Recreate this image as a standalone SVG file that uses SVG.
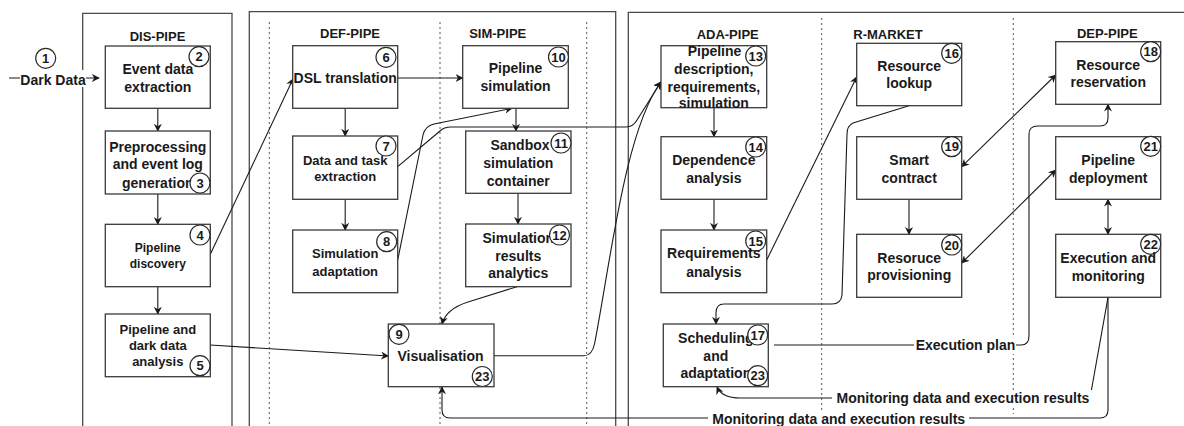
<svg xmlns="http://www.w3.org/2000/svg" width="1184" height="426" viewBox="0 0 1184 426">
  <style>
    text { font-family: "Liberation Sans", Arial, sans-serif; font-weight: bold; fill: #1a1a1a; }
    .t14 { font-size: 14px; text-anchor: middle; }
    .t13 { font-size: 13px; text-anchor: middle; }
    .t12 { font-size: 12px; text-anchor: middle; }
    .title { font-size: 13px; text-anchor: middle; }
    .num { font-size: 13px; text-anchor: middle; }
    .box { fill: #ffffff; stroke: #3a3a3a; stroke-width: 1.3; }
    .badge { fill: #ffffff; stroke: #2a2a2a; stroke-width: 1.2; }
    .frame { fill: none; stroke: #4a4a4a; stroke-width: 1.3; }
    .lane { fill: none; stroke: #555555; stroke-width: 1; stroke-dasharray: 2 3; }
    .edge { fill: none; stroke: #1a1a1a; stroke-width: 1.1; }
    .lbl { fill: #ffffff; stroke: none; }
  </style>
  <defs>
    <marker id="arrow" viewBox="0 0 10 10" refX="9" refY="5" markerWidth="8" markerHeight="8" markerUnits="userSpaceOnUse" orient="auto-start-reverse">
      <path d="M0,0 L10,5 L0,10 L3,5 z" fill="#1a1a1a"/>
    </marker>
  </defs>

  <rect width="1184" height="426" fill="#ffffff"/>

  <!-- pipeline frames and swimlane separators -->
  <g id="frames">
    <path class="frame" d="M82.7,430 V13.3 H232 V430"/>
    <path class="frame" d="M249.3,430 V11.7 H615.7 V430"/>
    <path class="frame" d="M628.3,430 V12.3 H1190"/>
    <line class="lane" x1="269.3" y1="22" x2="269.3" y2="426"/>
    <line class="lane" x1="440" y1="22" x2="440" y2="426"/>
    <line class="lane" x1="586.7" y1="22" x2="586.7" y2="426"/>
    <line class="lane" x1="821.7" y1="18" x2="821.7" y2="412"/>
    <line class="lane" x1="1013.3" y1="18" x2="1013.3" y2="414"/>
    <text class="title" x="157.5" y="41">DIS-PIPE</text>
    <text class="title" x="350" y="38">DEF-PIPE</text>
    <text class="title" x="497.7" y="38">SIM-PIPE</text>
    <text class="title" x="727.7" y="39">ADA-PIPE</text>
    <text class="title" x="888" y="39">R-MARKET</text>
    <text class="title" x="1107.3" y="38">DEP-PIPE</text>
  </g>

  <!-- connectors -->
  <g id="connectors" marker-end="url(#arrow)">
    <path class="edge" d="M9,78 H99"/>
    <path class="edge" d="M157.8,108.3 V131"/>
    <path class="edge" d="M157.8,194 V224.3"/>
    <path class="edge" d="M157.8,286.7 V314"/>
    <path class="edge" d="M210.3,254.3 L293,79"/>
    <path class="edge" d="M210.3,345 L388.3,356"/>
    <path class="edge" d="M397.7,78 H462.7"/>
    <path class="edge" d="M345.2,108.3 V136"/>
    <path class="edge" d="M345.2,199.3 V230"/>
    <path class="edge" d="M397.7,166.7 L440,131 Q444,127 451,127 H626 Q633,127 637,120 L661,82"/>
    <path class="edge" d="M397.7,260 L423,135 Q425,126 434,124 L512,108.3"/>
    <path class="edge" d="M516,108.3 V131"/>
    <path class="edge" d="M518,193.3 V224"/>
    <path class="edge" d="M517,286.7 L468,302 Q446,309 442,324"/>
    <path class="edge" d="M494,355.7 H584 Q592,355.7 594.5,344 C610,265 625,130 661,82"/>
    <path class="edge" d="M714,107.7 V136.7"/>
    <path class="edge" d="M714,199.3 V230"/>
    <path class="edge" d="M766.7,260 L856.7,77"/>
    <path class="edge" d="M909,105.7 L853,123 Q847,126 847,134 L842,295 Q841,304 832,304 H724 Q716,304 716,313 V324"/>
    <path class="edge" d="M774,345 H1021 Q1029,345 1029,336 V134 Q1029,126 1038,126 H1100 Q1108,126 1108,118 V104.3"/>
    <path class="edge" d="M961.7,166.7 L1055.7,75" marker-start="url(#arrow)"/>
    <path class="edge" d="M909,199.3 V234.3"/>
    <path class="edge" d="M961.7,263 L1055.7,170" marker-start="url(#arrow)"/>
    <path class="edge" d="M1108,199.3 V234.3" marker-start="url(#arrow)"/>
    <path class="edge" d="M1108,297.3 L1090,398 H740 Q722,398 717,387"/>
    <path class="edge" d="M1108,297.3 V410 Q1108,418 1100,418 H450 Q442,418 442,410 V387"/>
  </g>

  <!-- connector labels -->
  <g id="edge-labels">
    <rect class="lbl" x="20" y="70" width="66" height="17"/>
    <text class="t14" x="53" y="85">Dark Data</text>
    <rect class="lbl" x="914" y="337" width="102" height="17"/>
    <text class="t14" x="965.5" y="350">Execution plan</text>
    <rect class="lbl" x="832" y="390" width="262" height="17"/>
    <text class="t14" x="963" y="403.3">Monitoring data and execution results</text>
    <rect class="lbl" x="708" y="411" width="261" height="15"/>
    <text class="t14" x="838.7" y="424.3">Monitoring data and execution results</text>
  </g>

  <!-- step 1 marker -->
  <g id="n1">
    <circle class="badge" cx="45.7" cy="58.3" r="10"/>
    <text class="num" x="45.7" y="63">1</text>
  </g>

  <!-- DIS-PIPE -->
  <g id="n2">
    <rect class="box" x="105.3" y="46" width="105" height="62.3"/>
    <circle class="badge" cx="199" cy="56.7" r="10"/>
    <text class="num" x="199" y="61.4">2</text>
    <text class="t14" x="157.8" y="74.3">Event data</text>
    <text class="t14" x="157.8" y="92.3">extraction</text>
  </g>
  <g id="n3">
    <rect class="box" x="105.3" y="131" width="105" height="63"/>
    <text class="t14" x="157.8" y="151.7">Preprocessing</text>
    <text class="t14" x="157.8" y="169.3">and event log</text>
    <text class="t14" x="157.8" y="187.7">generation</text>
    <circle class="badge" cx="200" cy="183" r="10"/>
    <text class="num" x="200" y="187.7">3</text>
  </g>
  <g id="n4">
    <rect class="box" x="105.3" y="224.3" width="105" height="62.4"/>
    <circle class="badge" cx="200" cy="235" r="10"/>
    <text class="num" x="200" y="239.7">4</text>
    <text class="t12" x="157.8" y="252">Pipeline</text>
    <text class="t12" x="157.8" y="268.3">discovery</text>
  </g>
  <g id="n5">
    <rect class="box" x="105.3" y="314" width="105" height="62.7"/>
    <text class="t13" x="157.8" y="333.7">Pipeline and</text>
    <text class="t13" x="157.8" y="350.4">dark data</text>
    <text class="t13" x="157.8" y="366.4">analysis</text>
    <circle class="badge" cx="200" cy="365.7" r="10"/>
    <text class="num" x="200" y="370.4">5</text>
  </g>

  <!-- DEF-PIPE -->
  <g id="n6">
    <rect class="box" x="292.7" y="45.7" width="105" height="62.6"/>
    <circle class="badge" cx="386" cy="57.3" r="10"/>
    <text class="num" x="386" y="62">6</text>
    <text class="t14" x="345.2" y="83.3">DSL translation</text>
  </g>
  <g id="n7">
    <rect class="box" x="292.7" y="136" width="105" height="63.3"/>
    <circle class="badge" cx="386" cy="146" r="10"/>
    <text class="num" x="386" y="150.7">7</text>
    <text class="t13" x="345.2" y="164.6">Data and task</text>
    <text class="t13" x="345.2" y="181.3">extraction</text>
  </g>
  <g id="n8">
    <rect class="box" x="292.7" y="230" width="105" height="62.7"/>
    <circle class="badge" cx="386.7" cy="241.7" r="10"/>
    <text class="num" x="386.7" y="246.4">8</text>
    <text class="t13" x="345.2" y="257.9">Simulation</text>
    <text class="t13" x="345.2" y="275.6">adaptation</text>
  </g>

  <!-- SIM-PIPE -->
  <g id="n10">
    <rect class="box" x="462.7" y="45.7" width="105.6" height="62.6"/>
    <circle class="badge" cx="558.5" cy="57" r="10"/>
    <text class="num" x="558.5" y="61.7">10</text>
    <text class="t14" x="515.5" y="73.3">Pipeline</text>
    <text class="t14" x="515.5" y="91">simulation</text>
  </g>
  <g id="n11">
    <rect class="box" x="465.7" y="131" width="105.3" height="62.3"/>
    <circle class="badge" cx="561" cy="143" r="10"/>
    <text class="num" x="561" y="147.7">11</text>
    <text class="t14" x="520" y="150">Sandbox</text>
    <text class="t14" x="518.3" y="168.3">simulation</text>
    <text class="t14" x="518.3" y="186">container</text>
  </g>
  <g id="n12">
    <rect class="box" x="465.7" y="224" width="105.3" height="62.7"/>
    <text class="t14" x="518.3" y="243.3">Simulation</text>
    <text class="t14" x="518.3" y="260.7">results</text>
    <text class="t14" x="518.3" y="278.3">analytics</text>
    <circle class="badge" cx="559.5" cy="235" r="10"/>
    <text class="num" x="559.5" y="239.7">12</text>
  </g>
  <g id="n9">
    <rect class="box" x="388.3" y="324" width="105.7" height="62.7"/>
    <circle class="badge" cx="399" cy="334.3" r="10"/>
    <text class="num" x="399" y="339">9</text>
    <circle class="badge" cx="482.3" cy="376.5" r="10"/>
    <text class="num" x="482.3" y="381.2">23</text>
    <text class="t14" x="440.5" y="360.7">Visualisation</text>
  </g>

  <!-- ADA-PIPE -->
  <g id="n13">
    <rect class="box" x="661" y="45.7" width="105.7" height="62"/>
    <circle class="badge" cx="755.7" cy="56" r="10"/>
    <text class="num" x="755.7" y="60.7">13</text>
    <text class="t14" x="714.5" y="56">Pipeline</text>
    <text class="t14" x="713.8" y="74.3">description,</text>
    <text class="t14" x="713.8" y="91.7">requirements,</text>
    <text class="t14" x="713.8" y="107.7">simulation</text>
  </g>
  <g id="n14">
    <rect class="box" x="661" y="136.7" width="105.7" height="62.6"/>
    <circle class="badge" cx="755.7" cy="147" r="10"/>
    <text class="num" x="755.7" y="151.7">14</text>
    <text class="t14" x="713.8" y="165">Dependence</text>
    <text class="t14" x="713.8" y="182.7">analysis</text>
  </g>
  <g id="n15">
    <rect class="box" x="661" y="230" width="105.7" height="62.7"/>
    <circle class="badge" cx="755.7" cy="241" r="10"/>
    <text class="num" x="755.7" y="245.7">15</text>
    <text class="t14" x="713.8" y="258.3">Requirements</text>
    <text class="t14" x="713.8" y="276.7">analysis</text>
  </g>
  <g id="n17">
    <rect class="box" x="663.3" y="324" width="105" height="62.7"/>
    <text class="t14" x="715.8" y="343.3">Scheduling</text>
    <text class="t14" x="715.8" y="360.7">and</text>
    <text class="t14" x="715.8" y="378.3">adaptation</text>
    <circle class="badge" cx="757.7" cy="335" r="10"/>
    <text class="num" x="757.7" y="339.7">17</text>
    <circle class="badge" cx="757.7" cy="375.7" r="10"/>
    <text class="num" x="757.7" y="380.4">23</text>
  </g>

  <!-- R-MARKET -->
  <g id="n16">
    <rect class="box" x="856.7" y="43.3" width="105" height="62.4"/>
    <circle class="badge" cx="951.7" cy="53.3" r="10"/>
    <text class="num" x="951.7" y="58">16</text>
    <text class="t14" x="909.2" y="70.7">Resource</text>
    <text class="t14" x="909.2" y="88.3">lookup</text>
  </g>
  <g id="n19">
    <rect class="box" x="856.7" y="136.7" width="105" height="62.6"/>
    <circle class="badge" cx="951.7" cy="146.7" r="10"/>
    <text class="num" x="951.7" y="151.4">19</text>
    <text class="t14" x="909.2" y="165">Smart</text>
    <text class="t14" x="909.2" y="182.7">contract</text>
  </g>
  <g id="n20">
    <rect class="box" x="856.7" y="234.3" width="105" height="63"/>
    <circle class="badge" cx="951.7" cy="245" r="10"/>
    <text class="num" x="951.7" y="249.7">20</text>
    <text class="t14" x="909.2" y="262.7">Resoruce</text>
    <text class="t14" x="909.2" y="280">provisioning</text>
  </g>

  <!-- DEP-PIPE -->
  <g id="n18">
    <rect class="box" x="1055.7" y="41.7" width="105" height="62.6"/>
    <circle class="badge" cx="1150.7" cy="51.7" r="10"/>
    <text class="num" x="1150.7" y="56.4">18</text>
    <text class="t14" x="1108.2" y="70">Resource</text>
    <text class="t14" x="1108.2" y="86.7">reservation</text>
  </g>
  <g id="n21">
    <rect class="box" x="1055.7" y="136.7" width="105" height="62.6"/>
    <circle class="badge" cx="1150.7" cy="146.3" r="10"/>
    <text class="num" x="1150.7" y="151">21</text>
    <text class="t14" x="1108.2" y="165">Pipeline</text>
    <text class="t14" x="1108.2" y="182.7">deployment</text>
  </g>
  <g id="n22">
    <rect class="box" x="1055.7" y="234.3" width="105" height="63"/>
    <circle class="badge" cx="1150.7" cy="244.3" r="10"/>
    <text class="num" x="1150.7" y="249">22</text>
    <text class="t14" x="1108.2" y="263.3">Execution and</text>
    <text class="t14" x="1108.2" y="280.7">monitoring</text>
  </g>
</svg>
